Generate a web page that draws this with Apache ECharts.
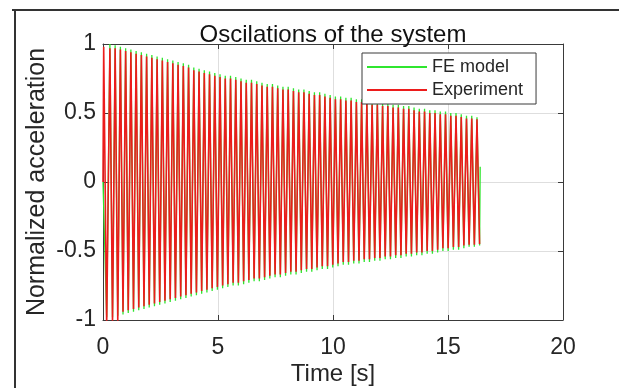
<!DOCTYPE html>
<html>
<head>
<meta charset="utf-8">
<script src="https://cdn.jsdelivr.net/npm/echarts@6/dist/echarts.min.js"></script>
<style>
html,body{margin:0;padding:0;background:#fff;}
#c{width:619px;height:388px;}
</style>
</head>
<body>
<div id="c"></div>
<script>
// ---- data ----
var seriesNames = ['FE model', 'Experiment'];
var xTicks = [0, 5, 10, 15, 20];
var yTicks = [-1, -0.5, 0, 0.5, 1];

// times [s] of the successive extremes (peak, trough, peak, ...)
var extremeTimes = [0.300,0.414,0.528,0.642,0.756,0.870,0.984,1.098,1.212,1.326,1.440,1.554,1.668,1.782,1.896,2.010,2.124,2.238,2.352,2.466,2.580,2.694,2.808,2.922,3.036,3.150,3.264,3.378,3.492,3.606,3.720,3.834,3.948,4.062,4.176,4.290,4.404,4.518,4.632,4.746,4.860,4.974,5.088,5.202,5.316,5.430,5.544,5.658,5.772,5.886,6.000,6.114,6.228,6.342,6.456,6.570,6.684,6.798,6.912,7.026,7.140,7.254,7.368,7.482,7.596,7.710,7.824,7.938,8.052,8.166,8.280,8.394,8.508,8.622,8.736,8.850,8.964,9.078,9.192,9.306,9.420,9.534,9.648,9.762,9.876,9.990,10.104,10.218,10.332,10.446,10.560,10.674,10.788,10.902,11.016,11.130,11.244,11.358,11.472,11.586,11.700,11.814,11.928,12.042,12.156,12.270,12.384,12.498,12.612,12.726,12.840,12.954,13.068,13.182,13.296,13.410,13.524,13.638,13.752,13.866,13.980,14.094,14.208,14.322,14.436,14.550,14.664,14.778,14.892,15.006,15.120,15.234,15.348,15.462,15.576,15.690,15.804,15.918,16.032,16.146,16.260,16.374];

// FE model
var feLeadT = [0, 0.16];
var feLeadV = [0, -0.98];
var fePeaks = [1.00,0.99,0.98,0.97,0.96,0.95,0.94,0.93,0.92,0.91,0.90,0.89,0.88,0.87,0.86,0.85,0.83,0.82,0.81,0.80,0.79,
  0.78,0.77,0.77,0.76,0.75,0.74,0.74,0.73,0.72,0.71,0.71,0.70,0.69,0.69,0.68,0.67,0.67,0.66,0.65,0.65,0.64,0.63,
  0.62,0.62,0.61,0.61,0.60,0.60,0.59,0.58,0.58,0.57,0.57,0.56,0.56,0.55,0.55,0.54,0.53,0.53,0.52,0.52,0.51,0.51,0.50,0.50,0.49,0.48,0.48,0.47];
var feTroughs = [-0.98,-0.97,-0.96,-0.95,-0.94,-0.93,-0.92,-0.91,-0.90,-0.89,-0.88,-0.87,-0.86,-0.85,-0.84,-0.83,-0.82,-0.81,-0.80,-0.79,-0.78,
  -0.77,-0.76,-0.75,-0.75,-0.74,-0.73,-0.72,-0.72,-0.71,-0.70,-0.69,-0.69,-0.68,-0.67,-0.67,-0.66,-0.65,-0.65,-0.64,-0.63,-0.63,-0.62,
  -0.61,-0.60,-0.60,-0.59,-0.59,-0.58,-0.58,-0.57,-0.57,-0.56,-0.56,-0.55,-0.55,-0.54,-0.54,-0.53,-0.53,-0.52,-0.52,-0.51,-0.50,-0.50,-0.49,-0.49,-0.48,-0.47,-0.47,-0.46];
var feTailT = [16.40];
var feTailV = [0.11];

// Experiment
var expLeadT = [0, 0.03, 0.16];
var expLeadV = [0, 0.98, -1.04];
var expPeaks = [0.97,0.97,0.96,0.95,0.94,0.93,0.92,0.91,0.90,0.89,0.88,0.87,0.86,0.85,0.84,0.83,0.81,0.80,0.79,0.78,0.77,
  0.76,0.75,0.75,0.74,0.73,0.72,0.72,0.71,0.70,0.69,0.69,0.68,0.67,0.67,0.66,0.65,0.65,0.64,0.63,0.63,0.62,0.61,
  0.60,0.60,0.59,0.59,0.58,0.58,0.57,0.56,0.56,0.55,0.55,0.54,0.54,0.53,0.53,0.52,0.51,0.51,0.50,0.50,0.49,0.49,0.48,0.48,0.47,0.46,0.46,0.455];
var expTroughs = [-1.02,-1.01,-0.94,-0.93,-0.92,-0.91,-0.90,-0.89,-0.88,-0.87,-0.86,-0.85,-0.84,-0.83,-0.82,-0.81,-0.80,-0.79,-0.78,-0.77,-0.76,
  -0.75,-0.74,-0.73,-0.73,-0.72,-0.71,-0.70,-0.70,-0.69,-0.68,-0.67,-0.67,-0.66,-0.65,-0.65,-0.64,-0.63,-0.63,-0.62,-0.61,-0.61,-0.60,
  -0.59,-0.58,-0.58,-0.57,-0.57,-0.56,-0.56,-0.55,-0.55,-0.54,-0.54,-0.53,-0.53,-0.52,-0.52,-0.51,-0.51,-0.50,-0.50,-0.49,-0.48,-0.48,-0.47,-0.47,-0.46,-0.455,-0.455,-0.45];

// ---- build series data from the arrays ----
function build(leadT, leadV, peaks, troughs, tailT, tailV) {
  var out = [];
  for (var i = 0; i < leadT.length; i++) out.push([leadT[i], leadV[i]]);
  for (var k = 0; k < peaks.length; k++) {
    out.push([extremeTimes[2 * k], peaks[k]]);
    if (k < troughs.length) out.push([extremeTimes[2 * k + 1], troughs[k]]);
  }
  for (var j = 0; j < tailT.length; j++) out.push([tailT[j], tailV[j]]);
  return out;
}
var feData = build(feLeadT, feLeadV, fePeaks, feTroughs, feTailT, feTailV);
var expData = build(expLeadT, expLeadV, expPeaks, expTroughs, [], []);

var FONT = 'Liberation Sans, Arial, Helvetica, sans-serif';
var TXT = '#262626';
var AX = '#3a3a3a';
var GRID = '#dedede';

var chart = echarts.init(document.getElementById('c'), null, {renderer: 'canvas'});
var grid = {left: 103, right: 56, top: 44, bottom: 68, show: false, containLabel: false, outerBoundsMode: 'none'};

function xAxisCfg(pos, showLabels) {
  return {
    type: 'value', position: pos, min: xTicks[0], max: xTicks[xTicks.length - 1], interval: 5,
    axisLine: {show: true, onZero: false, lineStyle: {color: AX, width: 1}},
    axisTick: {show: true, inside: true, length: 5, lineStyle: {color: AX}},
    axisLabel: {show: showLabels, color: TXT, fontFamily: FONT, fontSize: 23, margin: 16},
    splitLine: {show: showLabels, lineStyle: {color: GRID, width: 1}},
    name: showLabels ? 'Time [s]' : '', nameLocation: 'middle', nameGap: 42, nameMoveOverlap: false,
    nameTextStyle: {color: TXT, fontFamily: FONT, fontSize: 24}
  };
}
function yAxisCfg(pos, showLabels) {
  return {
    type: 'value', position: pos, min: yTicks[0], max: yTicks[yTicks.length - 1], interval: 0.5,
    axisLine: {show: true, onZero: false, lineStyle: {color: AX, width: 1}},
    axisTick: {show: true, inside: true, length: 5, lineStyle: {color: AX}},
    axisLabel: {show: showLabels, color: TXT, fontFamily: FONT, fontSize: 23, margin: 7},
    splitLine: {show: showLabels, lineStyle: {color: GRID, width: 1}},
    name: showLabels ? 'Normalized acceleration' : '', nameLocation: 'middle', nameGap: 53, nameMoveOverlap: false,
    nameTextStyle: {color: TXT, fontFamily: FONT, fontSize: 25}
  };
}

chart.setOption({
  animation: false,
  backgroundColor: '#fff',
  title: {
    text: 'Oscilations of the system', left: 328, top: 18, textAlign: 'center',
    textStyle: {color: '#111', fontFamily: FONT, fontSize: 24, fontWeight: 'normal'}
  },
  grid: grid,
  xAxis: [xAxisCfg('bottom', true), xAxisCfg('top', false)],
  yAxis: [yAxisCfg('left', true), yAxisCfg('right', false)],
  legend: {
    orient: 'vertical', left: 362, top: 53,
    backgroundColor: '#fff', borderColor: AX, borderWidth: 1,
    padding: [5, 13, 5, 5], itemGap: 5,
    itemWidth: 60, itemHeight: 2, icon: 'rect',
    textStyle: {color: TXT, fontFamily: FONT, fontSize: 18, lineHeight: 18},
    data: seriesNames
  },
  series: [
    {name: seriesNames[0], type: 'line', data: feData, showSymbol: false, symbol: 'none',
     lineStyle: {color: '#2fe62f', width: 1.3}, itemStyle: {color: '#2fe62f'}, clip: true, z: 2},
    {name: seriesNames[1], type: 'line', data: expData, showSymbol: false, symbol: 'none',
     lineStyle: {color: '#ec1c1c', width: 1.6}, itemStyle: {color: '#ec1c1c'}, clip: true, z: 3}
  ],
  graphic: [
    {type: 'line', silent: true, shape: {x1: 12, y1: 10, x2: 640, y2: 10},
     style: {stroke: '#333', lineWidth: 2}},
    {type: 'line', silent: true, shape: {x1: 15, y1: 9, x2: 15, y2: 400},
     style: {stroke: '#333', lineWidth: 2}}
  ]
});
</script>
</body>
</html>
